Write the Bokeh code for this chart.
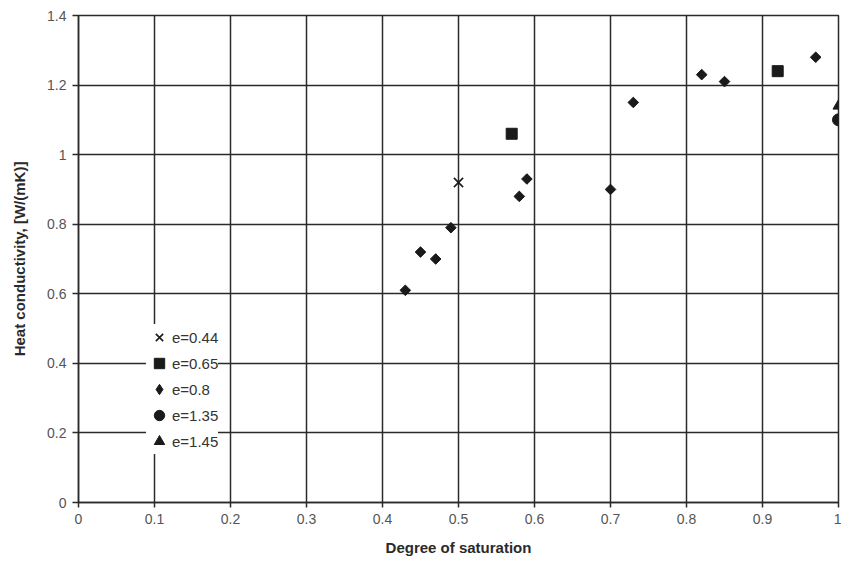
import math
from bokeh.plotting import figure
from bokeh.models import FixedTicker, Legend, LegendItem, Range1d
from bokeh.embed import file_html
from bokeh.resources import INLINE

x_ticks = [0, 0.1, 0.2, 0.3, 0.4, 0.5, 0.6, 0.7, 0.8, 0.9, 1.0]
x_labels = ["0", "0.1", "0.2", "0.3", "0.4", "0.5", "0.6", "0.7", "0.8", "0.9", "1"]
y_ticks = [0, 0.2, 0.4, 0.6, 0.8, 1.0, 1.2, 1.4]
y_labels = ["0", "0.2", "0.4", "0.6", "0.8", "1", "1.2", "1.4"]

s044_x = [0.50]
s044_y = [0.92]
s065_x = [0.57, 0.92]
s065_y = [1.06, 1.24]
s08_x = [0.43, 0.45, 0.47, 0.49, 0.58, 0.59, 0.70, 0.73, 0.82, 0.85, 0.97]
s08_y = [0.61, 0.72, 0.70, 0.79, 0.88, 0.93, 0.90, 1.15, 1.23, 1.21, 1.28]
s135_x = [1.0]
s135_y = [1.10]
s145_x = [1.0]
s145_y = [1.14]

FONT = "Liberation Sans"
INK = "#1a1a1a"

p = figure(width=841, height=561, output_backend="svg", toolbar_location=None,
           x_range=Range1d(0, 1), y_range=Range1d(0, 1.4),
           min_border_left=78, min_border_right=3, min_border_top=15, min_border_bottom=59)
p.background_fill_color = "white"
p.border_fill_color = "white"
p.outline_line_color = "#2a2a2a"
p.outline_line_width = 1.5

for ax, ticks, labels in ((p.xaxis, x_ticks, x_labels), (p.yaxis, y_ticks, y_labels)):
    ax.ticker = FixedTicker(ticks=ticks)
    ax.major_label_overrides = {t: l for t, l in zip(ticks, labels)}
    ax.minor_tick_line_color = None
    ax.major_tick_in = 0
    ax.major_tick_out = 6
    ax.axis_line_color = "#2a2a2a"
    ax.axis_line_width = 1.5
    ax.major_tick_line_color = "#2a2a2a"
    ax.major_tick_line_width = 1.5
    ax.major_label_text_font = FONT
    ax.major_label_text_font_size = "14px"
    ax.major_label_text_color = "#555555"
    ax.axis_label_text_font = FONT
    ax.axis_label_text_font_size = "15px"
    ax.axis_label_text_font_style = "bold"
    ax.axis_label_text_color = "#2a2a2a"

p.xaxis.axis_label = "Degree of saturation"
p.yaxis.axis_label = "Heat conductivity, [W/(mK)]"
p.xaxis.major_tick_out = 5
p.xaxis.major_label_standoff = 6
p.xaxis.axis_label_standoff = 12
p.yaxis.major_label_standoff = 6
p.yaxis.axis_label_standoff = 16

p.grid.grid_line_color = "#2a2a2a"
p.grid.grid_line_width = 1.5
p.grid.grid_line_alpha = 1.0

r1 = p.scatter(s044_x, s044_y, marker="x", size=13, line_color=INK, line_width=1.6)
r2 = p.scatter(s065_x, s065_y, marker="square", size=11, fill_color=INK, line_color=INK)
# diamond key for the legend; sits fully underneath the rotated squares in the plot
r3_key = p.scatter(s08_x, s08_y, marker="diamond", size=9, fill_color=INK, line_color=INK)
r3 = p.scatter(s08_x, s08_y, marker="square", angle=math.pi / 4, size=7.5,
               fill_color=INK, line_color=INK)
r4 = p.scatter(s135_x, s135_y, marker="circle", size=12, fill_color=INK, line_color=INK)
r5 = p.scatter(s145_x, s145_y, marker="triangle", size=11, fill_color=INK, line_color=INK)

legend = Legend(items=[
    LegendItem(label="e=0.44", renderers=[r1]),
    LegendItem(label="e=0.65", renderers=[r2]),
    LegendItem(label="e=0.8", renderers=[r3_key]),
    LegendItem(label="e=1.35", renderers=[r4]),
    LegendItem(label="e=1.45", renderers=[r5]),
], location=(68, 48))
legend.border_line_color = None
legend.background_fill_color = "white"
legend.background_fill_alpha = 1.0
legend.label_text_font = FONT
legend.label_text_font_size = "15px"
legend.label_text_color = "#333333"
legend.glyph_width = 26
legend.glyph_height = 26
legend.label_height = 26
legend.label_standoff = 0
legend.spacing = 0
legend.padding = 3
legend.margin = 0
p.add_layout(legend, "center")

open("out.html", "w").write(file_html(p, INLINE))
